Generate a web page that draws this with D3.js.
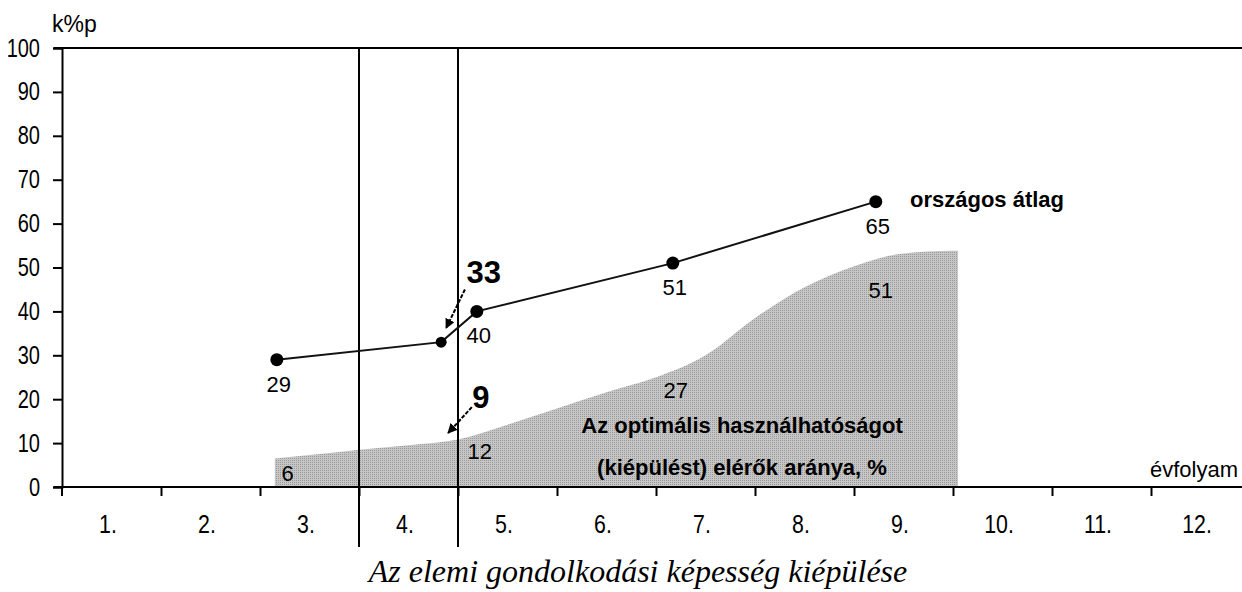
<!DOCTYPE html>
<html>
<head>
<meta charset="utf-8">
<script src="https://cdn.jsdelivr.net/npm/d3@7"></script>
<style>
  body { margin: 0; background: #fff; }
  text { font-family: "Liberation Sans", Arial, sans-serif; fill: #000; }
</style>
</head>
<body>
<div id="chart"></div>
<script>
// grade bands on the x axis
var grades = ["1.", "2.", "3.", "4.", "5.", "6.", "7.", "8.", "9.", "10.", "11.", "12."];
var yTicks = [0, 10, 20, 30, 40, 50, 60, 70, 80, 90, 100];
var boundaries = [3, 4];

// országos átlag (position in grade units, value)
var avgGrade = [2.17, 3.83, 4.19, 6.17, 8.22];
var avgValue = [29, 33, 40, 51, 65];
var avgLabel = ["29", "", "40", "51", "65"];

// share reaching optimal level (grey area)
var shareGrade = [2.15, 2.6, 3.0, 3.5, 4.0, 4.5, 5.0, 5.5, 6.0, 6.5, 7.0, 7.5, 8.0, 8.5, 9.0, 9.05];
var shareValue = [6.5, 7.5, 8.5, 9.5, 10.8, 14.2, 17.9, 21.6, 25, 30.0, 38.5, 45.5, 50.3, 53.2, 53.8, 53.8];
var shareLabelGrade = [2.28, 4.22, 6.2, 8.27];
var shareLabelValue = [6, 12, 27, 51];

// squeeze a text to a narrow look
function narrow(sel, k) {
    sel.each(function() {
        var len = this.getComputedTextLength();
        d3.select(this).attr("textLength", len * k).attr("lengthAdjust", "spacingAndGlyphs");
    });
}

function init() {
    var w = 1242;
    var h = 592;
    var left = 62, top = 48, bottom = 487;

    var svg = d3.select("#chart")
        .append("svg")
        .attr("width", w)
        .attr("height", h);

    var defs = svg.append("defs");
    defs.append("marker")
        .attr("id", "arrow")
        .attr("viewBox", "0 0 10 10")
        .attr("refX", 9).attr("refY", 5)
        .attr("markerWidth", 5).attr("markerHeight", 5)
        .attr("orient", "auto")
        .append("path")
        .attr("d", "M0,0 L10,5 L0,10 z")
        .attr("fill", "#000");

    // halftone grey
    var pat = defs.append("pattern")
        .attr("id", "dots")
        .attr("width", 2).attr("height", 2)
        .attr("patternUnits", "userSpaceOnUse");
    pat.append("rect").attr("width", 2).attr("height", 2).attr("fill", "#c6c6c6");
    pat.append("rect").attr("width", 1).attr("height", 1).attr("fill", "#9a9a9a");

    var xScale = d3.scaleLinear().domain([0, 12]).range([left, left + 99 * 12]);
    var yScale = d3.scaleLinear().domain([0, 100]).range([bottom, top]);

    // grey area
    var share = shareGrade.map(function(g, i) { return { g: g, v: shareValue[i] }; });
    var area = d3.area()
        .x(function(d) { return xScale(d.g); })
        .y0(yScale(0))
        .y1(function(d) { return yScale(d.v); })
        .curve(d3.curveMonotoneX);
    svg.append("path")
        .datum(share)
        .attr("d", area)
        .attr("fill", "url(#dots)");

    // top frame line
    svg.append("line")
        .attr("x1", left - 8).attr("x2", w)
        .attr("y1", top).attr("y2", top)
        .attr("stroke", "#000").attr("stroke-width", 2);

    // y axis
    var yAxis = d3.axisLeft(yScale).tickValues(yTicks).tickSize(9).tickPadding(13);
    var gy = svg.append("g")
        .attr("transform", "translate(" + left + ",0)")
        .call(yAxis);
    gy.select(".domain").attr("stroke-width", 2);
    gy.selectAll(".tick line").attr("stroke-width", 2);
    gy.selectAll("text").attr("font-size", 25).attr("font-family", null).call(narrow, 0.8);

    // x axis: tick marks at grade boundaries, labels at band centres
    var xAxis = d3.axisBottom(xScale).tickValues(d3.range(1, 12)).tickSize(9).tickFormat("");
    var gx = svg.append("g")
        .attr("transform", "translate(0," + bottom + ")")
        .call(xAxis);
    gx.select(".domain").attr("d", "M" + (left - 8) + ",0H" + w).attr("stroke-width", 2);
    gx.selectAll(".tick line").attr("stroke-width", 2);

    var xLabels = d3.axisBottom(xScale)
        .tickValues(grades.map(function(g, i) { return i + 0.5; }))
        .tickSize(0).tickPadding(28)
        .tickFormat(function(d, i) { return grades[i]; });
    var gl = svg.append("g")
        .attr("transform", "translate(-4," + bottom + ")")
        .call(xLabels);
    gl.select(".domain").remove();
    gl.selectAll("text").attr("font-size", 26).attr("font-family", null).call(narrow, 0.82);

    // small cross below the origin
    svg.append("line")
        .attr("x1", left).attr("x2", left)
        .attr("y1", bottom).attr("y2", bottom + 9)
        .attr("stroke", "#000").attr("stroke-width", 2);

    // vertical lines around grade 4
    svg.selectAll(".bound")
        .data(boundaries)
        .enter().append("line")
        .attr("class", "bound")
        .attr("x1", function(d) { return xScale(d); })
        .attr("x2", function(d) { return xScale(d); })
        .attr("y1", top).attr("y2", 547)
        .attr("stroke", "#000").attr("stroke-width", 2);

    // average line and points
    var avg = avgGrade.map(function(g, i) { return { g: g, v: avgValue[i], l: avgLabel[i] }; });
    var line = d3.line()
        .x(function(d) { return xScale(d.g); })
        .y(function(d) { return yScale(d.v); });
    svg.append("path")
        .datum(avg)
        .attr("d", line)
        .attr("fill", "none")
        .attr("stroke", "#111")
        .attr("stroke-width", 2);
    svg.selectAll(".dot")
        .data(avg)
        .enter().append("circle")
        .attr("class", "dot")
        .attr("cx", function(d) { return xScale(d.g); })
        .attr("cy", function(d) { return yScale(d.v); })
        .attr("r", function(d, i) { return i == 1 ? 5.5 : 6.5; })
        .attr("fill", "#000");
    svg.selectAll(".avgLabel")
        .data(avg)
        .enter().append("text")
        .attr("class", "avgLabel")
        .attr("x", function(d) { return xScale(d.g) + 2; })
        .attr("y", function(d) { return yScale(d.v) + 32; })
        .attr("text-anchor", "middle")
        .attr("font-size", 22)
        .text(function(d) { return d.l; });

    // area value labels
    svg.selectAll(".shareLabel")
        .data(shareLabelValue)
        .enter().append("text")
        .attr("class", "shareLabel")
        .attr("x", function(d, i) { return xScale(shareLabelGrade[i]); })
        .attr("y", function(d, i) { return yScale(d) + 20 + i * 5; })
        .attr("text-anchor", "middle")
        .attr("font-size", 22)
        .text(function(d) { return d; });

    // annotations 33 and 9 with arrows
    var notes = [
        { text: "33", tx: 4.26, ty: 46.5, x1: 4.07, y1: 45, x2: 3.88, y2: 36.2 },
        { text: "9", tx: 4.23, ty: 18, x1: 4.14, y1: 18.2, x2: 3.9, y2: 12.3 }
    ];
    svg.selectAll(".noteArrow")
        .data(notes)
        .enter().append("line")
        .attr("class", "noteArrow")
        .attr("x1", function(d) { return xScale(d.x1); })
        .attr("y1", function(d) { return yScale(d.y1); })
        .attr("x2", function(d) { return xScale(d.x2); })
        .attr("y2", function(d) { return yScale(d.y2); })
        .attr("stroke", "#000")
        .attr("stroke-width", 2)
        .attr("stroke-dasharray", "4,1.5")
        .attr("marker-end", "url(#arrow)");
    svg.selectAll(".noteText")
        .data(notes)
        .enter().append("text")
        .attr("class", "noteText")
        .attr("x", function(d) { return xScale(d.tx); })
        .attr("y", function(d) { return yScale(d.ty); })
        .attr("text-anchor", "middle")
        .attr("font-size", 31)
        .attr("font-weight", "bold")
        .text(function(d) { return d.text; });

    // legend-style labels
    svg.append("text")
        .attr("x", 910).attr("y", 207)
        .attr("font-size", 22).attr("font-weight", "bold")
        .text("országos átlag");

    svg.append("text")
        .attr("x", 742).attr("y", 433)
        .attr("text-anchor", "middle")
        .attr("font-size", 22).attr("font-weight", "bold")
        .text("Az optimális használhatóságot");
    svg.append("text")
        .attr("x", 742).attr("y", 475)
        .attr("text-anchor", "middle")
        .attr("font-size", 22).attr("font-weight", "bold")
        .text("(kiépülést) elérők aránya, %");

    svg.append("text")
        .attr("x", 1150).attr("y", 477)
        .attr("font-size", 22)
        .text("évfolyam");

    svg.append("text")
        .attr("x", 52).attr("y", 32)
        .attr("font-size", 23)
        .text("k%p");

    // caption
    svg.append("text")
        .attr("x", 638).attr("y", 582)
        .attr("text-anchor", "middle")
        .style("font-family", "'Liberation Serif', 'Times New Roman', serif")
        .attr("font-style", "italic")
        .attr("font-size", 32)
        .text("Az elemi gondolkodási képesség kiépülése");
}
window.onload = init;
</script>
</body>
</html>
